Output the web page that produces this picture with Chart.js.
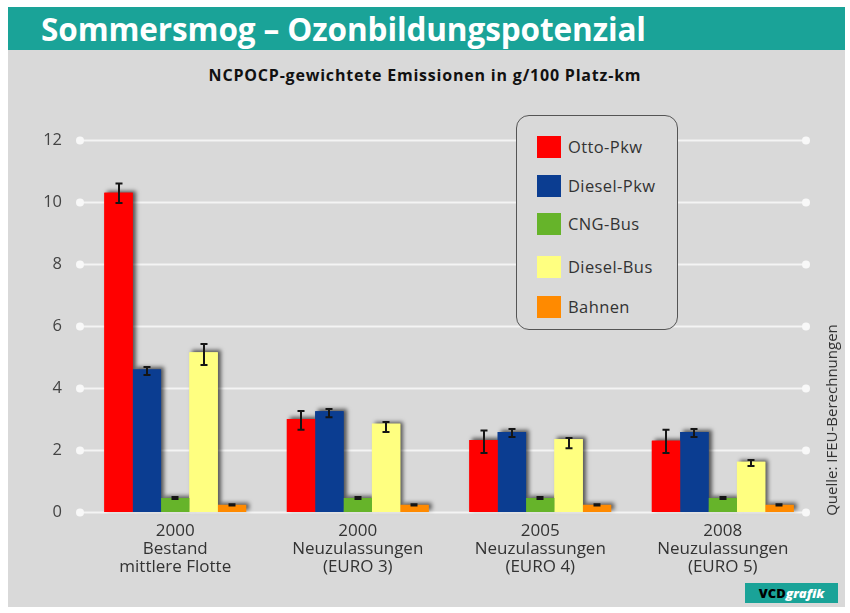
<!DOCTYPE html>
<html lang="de">
<head>
<meta charset="utf-8">
<title>Sommersmog – Ozonbildungspotenzial</title>
<script src="https://cdn.jsdelivr.net/npm/chart.js@4.4.1/dist/chart.umd.min.js"></script>
<style>
  body { margin: 0; background: #fff; font-family: "Open Sans", sans-serif; }
  #wrap { position: relative; width: 850px; height: 613px; overflow: hidden; background: #fff; }
  #panel { position: absolute; left: 8px; top: 49px; width: 837px; height: 558px; background: #d9d9d9; }
  #header { position: absolute; left: 8px; top: 7px; width: 837px; height: 43px; background: #1aa398; }
  #title { position: absolute; left: 41px; top: 7px; height: 43px; line-height: 43px; color: #fff;
           font-weight: 700; font-size: 31.5px; letter-spacing: -0.1px; white-space: nowrap; }
  #subtitle { position: absolute; left: 0; width: 850px; top: 64px; text-align: center; color: #111;
              font-weight: 700; font-size: 16px; letter-spacing: 0.8px; white-space: nowrap; }
  #chart { position: absolute; left: 0; top: 0; }
  #legend { position: absolute; left: 516px; top: 115px; width: 160px; height: 213px; background: #d9d9d9;
            border: 1.5px solid #555; border-radius: 13px; z-index: 2; }
  .item { position: absolute; left: 20px; height: 22px; line-height: 22px; font-size: 16.5px; letter-spacing: 0.4px; color: #333; white-space: nowrap; }
  .item span.sw { position: absolute; left: 0; top: 0; width: 24px; height: 22px; }
  .item span.tx { position: absolute; left: 31px; top: 0; }
  #source { position: absolute; left: 731px; top: 411px; width: 200px; height: 18px; line-height: 18px;
            text-align: center; font-size: 15px; color: #333; transform: rotate(-90deg); white-space: nowrap; }
  #logo { position: absolute; left: 745px; top: 583px; width: 93px; height: 20px; line-height: 20px;
          background: #1aa398; text-align: center; font-size: 13px; font-weight: 800; }
  #logo .v { color: #000; }
  #logo .g { color: #fff; font-style: italic; }
</style>
</head>
<body>
<div id="wrap">
  <div id="panel"></div>
  <div id="header"></div>
  <div id="title">Sommersmog – Ozonbildungspotenzial</div>
  <div id="subtitle">NCPOCP-gewichtete Emissionen in g/100 Platz-km</div>
  <canvas id="chart" width="850" height="613"></canvas>
  <div id="legend"></div>
  <div id="source">Quelle: IFEU-Berechnungen</div>
  <div id="logo"><span class="v">VCD</span><span class="g">grafik</span></div>
</div>
<script>
// --- DATEN ---
const categories = [
    ['2000', 'Bestand', 'mittlere Flotte'],
    ['2000', 'Neuzulassungen', '(EURO 3)'],
    ['2005', 'Neuzulassungen', '(EURO 4)'],
    ['2008', 'Neuzulassungen', '(EURO 5)']
];
const seriesNames = ['Otto-Pkw', 'Diesel-Pkw', 'CNG-Bus', 'Diesel-Bus', 'Bahnen'];
const seriesColors = ['#ff0000', '#0b3d91', '#66b42a', '#ffff80', '#ff8a00'];

const ottoPkw = [10.3, 3.0, 2.32, 2.3];
const dieselPkw = [4.6, 3.25, 2.58, 2.58];
const cngBus = [0.45, 0.45, 0.45, 0.45];
const dieselBus = [5.15, 2.85, 2.35, 1.62];
const bahnen = [0.23, 0.23, 0.23, 0.23];

// Fehlerbalken: [unten, oben]
const ottoPkwRange = [[9.97, 10.6], [2.65, 3.26], [1.9, 2.63], [1.9, 2.65]];
const dieselPkwRange = [[4.42, 4.68], [3.06, 3.32], [2.42, 2.68], [2.42, 2.68]];
const cngBusRange = [[0.42, 0.48], [0.42, 0.48], [0.42, 0.48], [0.42, 0.48]];
const dieselBusRange = [[4.74, 5.42], [2.58, 2.9], [2.06, 2.39], [1.48, 1.68]];
const bahnenRange = [[0.21, 0.25], [0.21, 0.25], [0.21, 0.25], [0.21, 0.25]];

const yTicks = [0, 2, 4, 6, 8, 10, 12];

const seriesValues = [ottoPkw, dieselPkw, cngBus, dieselBus, bahnen];
const seriesRanges = [ottoPkwRange, dieselPkwRange, cngBusRange, dieselBusRange, bahnenRange];

// Legende (HTML)
const legendBox = document.getElementById('legend');
seriesNames.forEach((name, i) => {
    const top = [20, 59, 97, 140, 180][i];
    legendBox.innerHTML += `<div class="item" style="top:${top}px"><span class="sw" style="background:${seriesColors[i]}"></span><span class="tx">${name}</span></div>`;
});

// Gitterlinien mit Punkten + Schatten unter den Balken
const backdropPlugin = {
    id: 'backdrop',
    beforeDatasetsDraw(chart) {
        const ctx = chart.ctx;
        const y = chart.scales.y;
        ctx.save();
        ctx.strokeStyle = '#f4f4f4';
        ctx.fillStyle = '#f8f8f8';
        ctx.lineWidth = 2;
        yTicks.forEach(v => {
            const py = Math.round(y.getPixelForValue(v)) + 0.5;
            ctx.beginPath();
            ctx.moveTo(80, py);
            ctx.lineTo(806, py);
            ctx.stroke();
            [80, 806].forEach(px => {
                ctx.beginPath();
                ctx.arc(px, py, 4, 0, Math.PI * 2);
                ctx.fill();
            });
        });
        ctx.restore();

        ctx.save();
        ctx.shadowColor = 'rgba(0,0,0,0.6)';
        ctx.shadowBlur = 4;
        ctx.shadowOffsetX = 3;
        ctx.shadowOffsetY = -2;
        chart.data.datasets.forEach((ds, di) => {
            chart.getDatasetMeta(di).data.forEach(bar => {
                ctx.fillStyle = ds.backgroundColor;
                ctx.fillRect(bar.x - bar.width / 2, bar.y, bar.width, bar.base - bar.y);
            });
        });
        ctx.restore();
    },
    afterDatasetsDraw(chart) {
        const ctx = chart.ctx;
        const y = chart.scales.y;
        ctx.save();
        ctx.strokeStyle = '#151515';
        ctx.lineWidth = 2;
        seriesRanges.forEach((ranges, di) => {
            chart.getDatasetMeta(di).data.forEach((bar, i) => {
                const lo = y.getPixelForValue(ranges[i][0]);
                const hi = y.getPixelForValue(ranges[i][1]);
                const cx = Math.round(bar.x);
                ctx.beginPath();
                ctx.moveTo(cx, lo); ctx.lineTo(cx, hi);
                ctx.moveTo(cx - 3.5, lo); ctx.lineTo(cx + 3.5, lo);
                ctx.moveTo(cx - 3.5, hi); ctx.lineTo(cx + 3.5, hi);
                ctx.stroke();
            });
        });
        ctx.restore();
    }
};

new Chart(document.getElementById('chart'), {
    type: 'bar',
    data: {
        labels: categories,
        datasets: seriesNames.map((name, i) => ({
            label: name,
            data: seriesValues[i],
            backgroundColor: seriesColors[i],
            borderWidth: 0,
            categoryPercentage: 0.777,
            barPercentage: 1
        }))
    },
    options: {
        responsive: false,
        animation: false,
        layout: { padding: { top: 140, right: 36, bottom: 0, left: 0 } },
        plugins: { legend: { display: false }, tooltip: { enabled: false } },
        scales: {
            x: {
                grid: { display: false, drawTicks: false },
                border: { display: false },
                ticks: { color: '#333', font: { family: '"Open Sans"', size: 17, lineHeight: 1.06 }, padding: 10, maxRotation: 0, autoSkip: false },
                afterFit(s) { s.height = 101; }
            },
            y: {
                min: 0, max: 12,
                afterBuildTicks(s) { s.ticks = yTicks.map(v => ({ value: v })); },
                grid: { display: false, drawTicks: false },
                border: { display: false },
                ticks: { color: '#444', font: { family: '"Open Sans"', size: 16.5 }, padding: 22 },
                afterFit(s) { s.width = 84; }
            }
        }
    },
    plugins: [backdropPlugin]
});
</script>
</body>
</html>
